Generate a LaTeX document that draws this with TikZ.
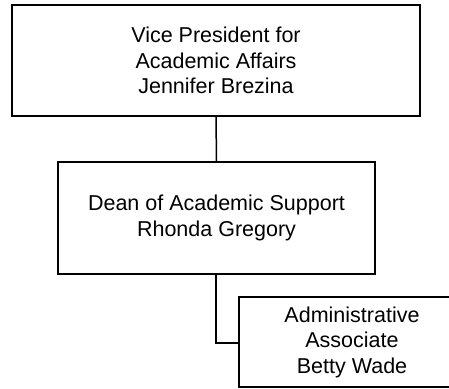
\documentclass[tikz,border=0pt]{standalone}
\usepackage{fontspec}
\setmainfont{Liberation Sans}
\begin{document}
\begin{tikzpicture}[x=1pt,y=-1pt,
  box/.style={draw=black, line width=1.5pt, fill=white, align=center, inner sep=0pt,
    font=\fontsize{21.5}{25.5}\selectfont},
  conn/.style={draw=black, line width=1.5pt}]
\useasboundingbox (0,0) rectangle (449,388);
\clip (0,0) rectangle (449,388);
\fill[white] (0,0) rectangle (449,388);
\node[box, minimum width=408pt, minimum height=111pt] (vp) at (216,60.5)
  {Vice President for\\Academic Affairs\\Jennifer Brezina};
\node[box, minimum width=317pt, minimum height=112pt] (dean) at (216.5,218)
  {Dean of Academic Support\\Rhonda Gregory};
\node[box, minimum width=226pt, minimum height=90pt] (aa) at (352,342)
  {Administrative\\Associate\\Betty Wade};
\coordinate (turn) at (216,343);
\draw[conn] (vp.south) -- (dean.north);
\draw[conn] (dean.south -| turn) -- (turn) -- (turn -| aa.west);
\end{tikzpicture}
\end{document}
